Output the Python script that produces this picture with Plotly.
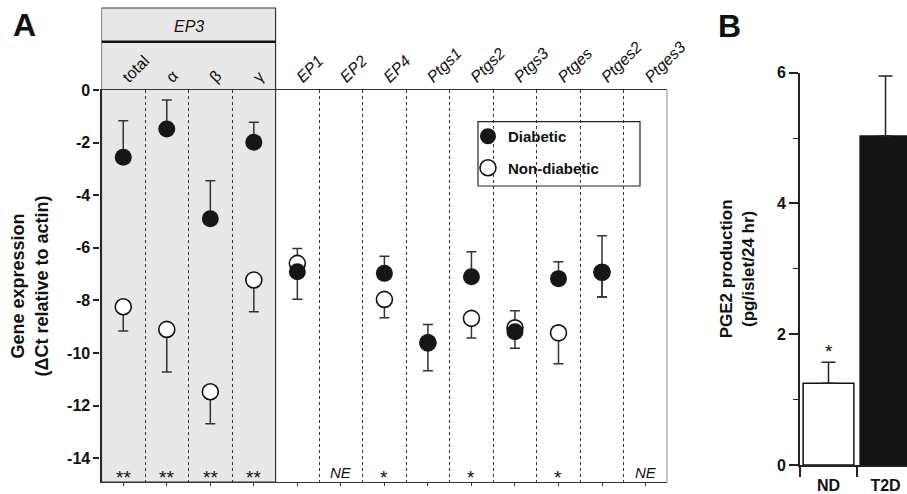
import plotly.graph_objects as go

# ---------------- data ----------------
categories = ["total", "α", "β", "γ", "EP1", "EP2", "EP4", "Ptgs1", "Ptgs2",
              "Ptgs3", "Ptges", "Ptges2", "Ptges3"]
tick_labels = ["total", "α", "β", "γ", "<i>EP1</i>", "<i>EP2</i>", "<i>EP4</i>",
               "<i>Ptgs1</i>", "<i>Ptgs2</i>", "<i>Ptgs3</i>", "<i>Ptges</i>",
               "<i>Ptges2</i>", "<i>Ptges3</i>"]

diab_mean = [-2.56, -1.48, -4.89, -1.99, -6.91, None, -6.97, -9.61, -7.10, -9.19, -7.17, -6.93, None]
diab_err_up = [1.39, 1.10, 1.44, 0.76, 0.0, 0, 0.65, 0.70, 0.95, 0.0, 0.64, 1.39, 0]
diab_err_down = [0, 0, 0, 0, 1.04, 0, 0, 0, 0, 0.63, 0, 0.94, 0]

nond_mean = [-8.24, -9.10, -11.47, -7.22, -6.59, None, -7.96, -9.61, -8.68, -9.04, -9.23, -6.93, None]
nond_err_up = [0, 0, 0, 0, 0.57, 0, 0, 0, 0, 0.65, 0, 0, 0]
nond_err_down = [0.92, 1.62, 1.22, 1.21, 0, 0, 0.70, 1.06, 0.75, 0, 1.18, 0.94, 0]

signif = ["**", "**", "**", "**", "", "<i>NE</i>", "*", "", "*", "", "*", "", "<i>NE</i>"]

yticks_a = [0, -2, -4, -6, -8, -10, -12, -14]
ytick_text_a = ["0", "-2", "-4", "-6", "-8", "-10", "-12", "-14"]

groups_b = ["ND", "T2D"]
pge2 = [1.25, 5.03]
pge2_err = [0.32, 0.92]
signif_b = ["*", ""]
yticks_b = [0, 2, 4, 6]

# ---------------- style ----------------
FONT = "Liberation Sans, Arial, Helvetica, sans-serif"
W, H = 907, 494
XA = [101.5 / W, 667.3 / W]
YA = [12 / H, 404 / H]
XB = [800 / W, 1.0]
YB = [29 / H, 421.3 / H]
TOPBOX = (H - 8) / H
EP3LINE = (H - 41.7) / H

fig = go.Figure()

fig.add_trace(go.Scatter(
    x=categories, y=nond_mean, mode="markers", name="Non-diabetic",
    legendgroup="nd", legendrank=2,
    marker=dict(size=16, color="white", line=dict(color="#111", width=1.6)),
    error_y=dict(type="data", symmetric=False, array=nond_err_up,
                 arrayminus=nond_err_down, color="#333", thickness=1.5, width=5),
    xaxis="x", yaxis="y"))

fig.add_trace(go.Scatter(
    x=categories, y=diab_mean, mode="markers", name="Diabetic",
    legendgroup="d", legendrank=1,
    marker=dict(size=17, color="#161616", line=dict(width=0)),
    error_y=dict(type="data", symmetric=False, array=diab_err_up,
                 arrayminus=diab_err_down, color="#333", thickness=1.5, width=5),
    xaxis="x", yaxis="y"))

fig.add_trace(go.Bar(
    x=groups_b, y=pge2, width=0.89, showlegend=False,
    marker=dict(color=["white", "#141414"], line=dict(color="#111", width=1.5)),
    error_y=dict(type="data", symmetric=False, array=pge2_err, arrayminus=[0, 0],
                 color="#222", thickness=1.5, width=7),
    xaxis="x3", yaxis="y2"))

# significance marks panel A
for c, s in zip(categories, signif):
    if s:
        star = "*" in s
        fig.add_annotation(x=c, y=-14.72 if star else -14.55, xref="x", yref="y", text=s,
                           showarrow=False, yanchor="middle",
                           font=dict(family=FONT, size=19 if star else 15, color="#111"))
for g, s, v, e in zip(groups_b, signif_b, pge2, pge2_err):
    if s:
        fig.add_annotation(x=g, y=v + e, xref="x3", yref="y2", text=s, showarrow=False,
                           yanchor="bottom", yshift=-2,
                           font=dict(family=FONT, size=19, color="#111"))

# panel letters and header
fig.add_annotation(x=24 / W, y=(H - 25) / H, xref="paper", yref="paper", text="<b>A</b>",
                   showarrow=False, xanchor="center", yanchor="middle",
                   font=dict(family=FONT, size=32, color="#111"))
fig.add_annotation(x=729 / W, y=(H - 26) / H, xref="paper", yref="paper", text="<b>B</b>",
                   showarrow=False, xanchor="center", yanchor="middle",
                   font=dict(family=FONT, size=32, color="#111"))
fig.add_annotation(x=1.5, y=(H - 26) / H, xref="x2", yref="paper", text="<i>EP3</i>",
                   showarrow=False, xanchor="center", yanchor="middle",
                   font=dict(family=FONT, size=16, color="#111"))

# decorative shapes
fig.add_shape(type="rect", xref="x2", yref="paper", x0=-0.5, x1=3.5, y0=YA[0], y1=TOPBOX,
              fillcolor="#e8e8e8", line=dict(width=0), layer="below")
fig.add_shape(type="rect", xref="x2", yref="paper", x0=-0.5, x1=3.5, y0=YA[0], y1=TOPBOX,
              line=dict(color="#333", width=1.2), layer="above")
fig.add_shape(type="line", xref="x2", yref="paper", x0=-0.5, x1=3.5, y0=EP3LINE, y1=EP3LINE,
              line=dict(color="#111", width=2.5))
fig.add_shape(type="line", xref="x2", yref="paper", x0=12.5, x1=12.5, y0=YA[0], y1=YA[1],
              line=dict(color="#333", width=1.2))
# legend frame
fig.add_shape(type="rect", xref="paper", yref="paper", x0=478 / W, x1=640 / W,
              y0=(H - 186) / H, y1=(H - 121.7) / H, line=dict(color="#222", width=1.2),
              fillcolor="white", layer="below")

fig.update_layout(
    width=W, height=H, margin=dict(l=0, r=0, t=0, b=0, autoexpand=False), autosize=False,
    paper_bgcolor="white", plot_bgcolor="rgba(0,0,0,0)",
    showlegend=True,
    legend=dict(x=468 / W, y=(H - 120) / H, xanchor="left", yanchor="top",
                bgcolor="rgba(0,0,0,0)", borderwidth=0, tracegroupgap=9,
                font=dict(family=FONT, size=15, color="#111", weight="bold")),
    xaxis=dict(domain=XA, type="category", categoryorder="array", categoryarray=categories,
               range=[-0.5, 12.5], showgrid=False, showline=True, mirror=True,
               linecolor="#333", linewidth=1.2, ticks="outside", ticklen=3, tickcolor="#333",
               showticklabels=False, anchor="y", zeroline=False, automargin=False),
    xaxis2=dict(domain=XA, overlaying="x", side="top", anchor="y", range=[-0.5, 12.5],
                tickmode="array", tickvals=list(range(len(categories))), ticktext=tick_labels,
                tickangle=-45, ticks="", showline=False, showgrid=False, zeroline=False,
                automargin=False,
                tickfont=dict(family=FONT, size=16, color="#111"),
                minor=dict(tickmode="array", tickvals=[i + 0.5 for i in range(len(categories) - 1)],
                           showgrid=True, griddash="dot", gridcolor="#333", gridwidth=1, ticks="")),
    yaxis=dict(domain=YA, range=[-14.9, 0], tickmode="array", tickvals=yticks_a,
               ticktext=ytick_text_a,
               ticks="outside", ticklen=6, tickwidth=1.5, tickcolor="#222",
               showline=True, linewidth=2.2, linecolor="#222", showgrid=False, zeroline=False,
               tickfont=dict(family=FONT, size=16, color="#111", weight="bold"),
               title=dict(text="Gene expression<br>(ΔCt relative to actin)", standoff=14,
                          font=dict(family=FONT, size=18, color="#111", weight="bold")),
               anchor="x", automargin=False),
    xaxis3=dict(domain=XB, type="category", categoryorder="array", categoryarray=groups_b,
                range=[-0.5, 1.377], anchor="y2", tickson="boundaries", ticks="outside",
                ticklen=10, tickwidth=1.5, tickcolor="#222", showline=True, linewidth=1.5,
                linecolor="#222", showgrid=False, zeroline=False, automargin=False,
                ticklabelstandoff=5,
                tickfont=dict(family=FONT, size=16, color="#111", weight="bold")),
    yaxis2=dict(domain=YB, range=[0, 6], anchor="x3", tickmode="array", tickvals=yticks_b,
                ticks="outside", ticklen=9, tickwidth=1.5, tickcolor="#222",
                minor=dict(dtick=1, ticks="outside", ticklen=5, tickwidth=1.2, tickcolor="#222"),
                showline=True, linewidth=2, linecolor="#222", showgrid=False, zeroline=False,
                tickfont=dict(family=FONT, size=16, color="#111", weight="bold"),
                title=dict(text="PGE2 production<br>(pg/islet/24 hr)", standoff=18,
                           font=dict(family=FONT, size=17, color="#111", weight="bold")),
                automargin=False),
)

post = ("document.documentElement.style.margin='0';document.body.style.margin='0';"
        "document.body.style.padding='0';document.body.style.overflow='hidden';")

fig.write_html("out.html", post_script=post, config={"displayModeBar": False})
